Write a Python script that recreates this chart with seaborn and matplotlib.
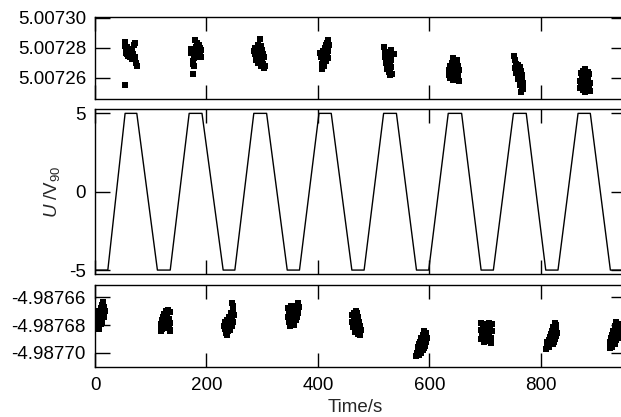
import matplotlib
matplotlib.use("Agg")
import matplotlib.pyplot as plt
from matplotlib.ticker import FormatStrFormatter
import seaborn as sns
import pandas as pd

# --- valores ---

# rampa de tension (vertices de la linea), tiempo en s y U en V90
wave_t = [0, 23, 54, 75, 112, 135, 169, 192, 230, 251, 285, 308, 345, 367,
          402, 424, 461, 483, 518, 541, 577, 599, 634, 658, 693, 715, 751,
          774, 809, 831, 867, 889, 925, 960]
wave_u = [-5, -5, 5, 5, -5, -5, 5, 5, -5, -5, 5, 5, -5, -5,
          5, 5, -5, -5, 5, 5, -5, -5, 5, 5, -5, -5, 5,
          5, -5, -5, 5, 5, -5, -5]

# lecturas en la meseta de +5 V
top_time = [
    53, 54, 55, 55, 56, 57, 57, 58, 59, 60, 61, 62, 63, 64, 65, 66, 67, 68, 70, 71, 72, 74, 75, 54,
    179, 183, 186, 188, 181, 184, 187, 189, 191, 185, 175, 173, 177, 180, 182, 178, 176, 175, 177, 176, 190, 172,
    296, 293, 298, 288, 291, 295, 299, 301, 287, 290, 294, 297, 300, 289, 292, 296, 302, 305, 303, 298, 304, 286,
    419, 417, 420, 414, 416, 418, 412, 410, 415, 419, 408, 411, 413, 416, 404, 406, 409, 414, 418, 407, 411, 408,
    519, 531, 537, 521, 524, 520, 523, 526, 529, 527, 522, 525, 528, 531, 530, 524, 527, 530, 533, 532, 529, 526,
    643, 650, 640, 645, 637, 641, 648, 652, 635, 639, 644, 650, 654, 636, 641, 646, 652, 638, 643, 649, 654, 640,
    752, 753, 755, 757, 760, 763, 754, 758, 762, 765, 756, 760, 764, 767, 759, 763, 766, 769, 762, 766, 768, 765,
    880, 876, 884, 872, 878, 882, 887, 874, 879, 885, 871, 876, 881, 888, 873, 878, 883, 886, 870, 875, 889, 880,
]
top_volt = [
    5.0072835, 5.0072810, 5.0072785, 5.0072765, 5.0072780, 5.0072755, 5.0072805, 5.0072770,
    5.0072745, 5.0072780, 5.0072760, 5.0072735, 5.0072790, 5.0072770, 5.0072750, 5.0072725,
    5.0072775, 5.0072755, 5.0072815, 5.0072830, 5.0072740, 5.0072700, 5.0072675, 5.0072550,
    5.0072850, 5.0072830, 5.0072815, 5.0072795, 5.0072805, 5.0072785, 5.0072770, 5.0072755,
    5.0072740, 5.0072745, 5.0072780, 5.0072765, 5.0072760, 5.0072775, 5.0072735, 5.0072730,
    5.0072710, 5.0072690, 5.0072675, 5.0072625, 5.0072785, 5.0072790,
    5.0072855, 5.0072820, 5.0072810, 5.0072795, 5.0072780, 5.0072770, 5.0072785, 5.0072755,
    5.0072760, 5.0072740, 5.0072730, 5.0072745, 5.0072720, 5.0072715, 5.0072700, 5.0072705,
    5.0072690, 5.0072680, 5.0072665, 5.0072675, 5.0072740, 5.0072775,
    5.0072850, 5.0072830, 5.0072815, 5.0072820, 5.0072800, 5.0072790, 5.0072795, 5.0072780,
    5.0072770, 5.0072775, 5.0072760, 5.0072750, 5.0072735, 5.0072755, 5.0072765, 5.0072740,
    5.0072720, 5.0072710, 5.0072730, 5.0072690, 5.0072680, 5.0072655,
    5.0072805, 5.0072785, 5.0072760, 5.0072770, 5.0072750, 5.0072735, 5.0072720, 5.0072730,
    5.0072740, 5.0072705, 5.0072695, 5.0072680, 5.0072690, 5.0072670, 5.0072700, 5.0072655,
    5.0072640, 5.0072645, 5.0072625, 5.0072715, 5.0072615, 5.0072755,
    5.0072730, 5.0072715, 5.0072695, 5.0072685, 5.0072675, 5.0072670, 5.0072665, 5.0072680,
    5.0072650, 5.0072645, 5.0072640, 5.0072635, 5.0072650, 5.0072620, 5.0072615, 5.0072610,
    5.0072620, 5.0072595, 5.0072585, 5.0072600, 5.0072575, 5.0072630,
    5.0072745, 5.0072720, 5.0072690, 5.0072680, 5.0072685, 5.0072670, 5.0072665, 5.0072650,
    5.0072640, 5.0072645, 5.0072630, 5.0072620, 5.0072610, 5.0072615, 5.0072590, 5.0072580,
    5.0072585, 5.0072565, 5.0072550, 5.0072535, 5.0072525, 5.0072505,
    5.0072660, 5.0072645, 5.0072640, 5.0072630, 5.0072620, 5.0072615, 5.0072625, 5.0072600,
    5.0072595, 5.0072590, 5.0072575, 5.0072570, 5.0072580, 5.0072565, 5.0072550, 5.0072545,
    5.0072540, 5.0072525, 5.0072530, 5.0072515, 5.0072510, 5.0072505,
]

# lecturas en la meseta de -5 V
bot_time = [
    15, 12, 17, 10, 14, 18, 3, 6, 8, 11, 2, 5, 9, 13, 16, 1, 4, 7, 10, 6, 8, 12,
    131, 127, 134, 124, 129, 122, 126, 132, 120, 124, 130, 135, 119, 123, 128, 133, 118, 121, 126, 135, 119, 134,
    246, 247, 248, 244, 249, 240, 245, 237, 242, 248, 234, 239, 244, 231, 236, 241, 246, 233, 238, 243, 235, 237,
    365, 361, 367, 347, 352, 357, 350, 355, 360, 364, 348, 353, 358, 362, 346, 351, 356, 361, 349, 354, 350, 358,
    468, 465, 471, 462, 467, 472, 464, 469, 474, 461, 466, 471, 476, 463, 468, 473, 470, 475, 472, 476, 478, 466,
    591, 594, 589, 595, 586, 591, 584, 589, 594, 582, 587, 592, 580, 585, 590, 579, 583, 588, 578, 582, 577, 586,
    693, 700, 707, 712, 696, 703, 709, 692, 699, 706, 712, 694, 701, 708, 697, 704, 711, 693, 700, 707, 710, 699,
    825, 828, 822, 827, 820, 825, 829, 818, 823, 828, 816, 821, 826, 814, 819, 824, 812, 817, 822, 811, 815, 810,
    936, 940, 933, 938, 942, 930, 935, 940, 928, 933, 938, 926, 931, 936, 925, 929, 934, 924, 928, 925, 941, 932,
]
bot_volt = [
    -4.9876635, -4.9876655, -4.9876670, -4.9876680, -4.9876690, -4.9876700, -4.9876705, -4.9876695,
    -4.9876715, -4.9876725, -4.9876735, -4.9876750, -4.9876760, -4.9876740, -4.9876745, -4.9876770,
    -4.9876780, -4.9876790, -4.9876795, -4.9876815, -4.9876830, -4.9876775,
    -4.9876690, -4.9876700, -4.9876705, -4.9876720, -4.9876725, -4.9876740, -4.9876750, -4.9876755,
    -4.9876765, -4.9876775, -4.9876780, -4.9876785, -4.9876795, -4.9876805, -4.9876810, -4.9876805,
    -4.9876825, -4.9876830, -4.9876820, -4.9876835, -4.9876845, -4.9876840,
    -4.9876640, -4.9876665, -4.9876695, -4.9876715, -4.9876730, -4.9876740, -4.9876750, -4.9876760,
    -4.9876770, -4.9876775, -4.9876780, -4.9876790, -4.9876800, -4.9876805, -4.9876815, -4.9876820,
    -4.9876810, -4.9876830, -4.9876840, -4.9876835, -4.9876855, -4.9876870,
    -4.9876640, -4.9876660, -4.9876670, -4.9876675, -4.9876665, -4.9876680, -4.9876695, -4.9876700,
    -4.9876695, -4.9876710, -4.9876720, -4.9876725, -4.9876730, -4.9876740, -4.9876745, -4.9876755,
    -4.9876760, -4.9876765, -4.9876780, -4.9876785, -4.9876810, -4.9876800,
    -4.9876695, -4.9876710, -4.9876715, -4.9876730, -4.9876740, -4.9876745, -4.9876760, -4.9876770,
    -4.9876775, -4.9876780, -4.9876790, -4.9876800, -4.9876810, -4.9876815, -4.9876825, -4.9876830,
    -4.9876845, -4.9876850, -4.9876865, -4.9876875, -4.9876835, -4.9876850,
    -4.9876840, -4.9876860, -4.9876875, -4.9876890, -4.9876895, -4.9876905, -4.9876920, -4.9876925,
    -4.9876920, -4.9876940, -4.9876945, -4.9876950, -4.9876960, -4.9876970, -4.9876965, -4.9876985,
    -4.9876990, -4.9876980, -4.9877005, -4.9877015, -4.9877025, -4.9877000,
    -4.9876785, -4.9876790, -4.9876785, -4.9876795, -4.9876810, -4.9876815, -4.9876820, -4.9876835,
    -4.9876840, -4.9876835, -4.9876845, -4.9876860, -4.9876865, -4.9876860, -4.9876885, -4.9876880,
    -4.9876890, -4.9876900, -4.9876910, -4.9876915, -4.9876930, -4.9876925,
    -4.9876785, -4.9876800, -4.9876815, -4.9876830, -4.9876840, -4.9876850, -4.9876855, -4.9876865,
    -4.9876870, -4.9876880, -4.9876885, -4.9876895, -4.9876900, -4.9876905, -4.9876915, -4.9876920,
    -4.9876925, -4.9876935, -4.9876940, -4.9876950, -4.9876960, -4.9876970,
    -4.9876780, -4.9876795, -4.9876810, -4.9876825, -4.9876830, -4.9876840, -4.9876850, -4.9876860,
    -4.9876870, -4.9876880, -4.9876885, -4.9876895, -4.9876905, -4.9876910, -4.9876920, -4.9876930,
    -4.9876935, -4.9876945, -4.9876955, -4.9876965, -4.9876890, -4.9876920,
]

x_ticks = [0, 200, 400, 600, 800]
top_ticks = [5.00726, 5.00728, 5.00730]
mid_ticks = [-5, 0, 5]
bot_ticks = [-4.98770, -4.98768, -4.98766]

# --- estilo ---
sns.set_theme(style="ticks")
plt.rcParams["font.family"] = ["Liberation Sans", "DejaVu Sans"]
plt.rcParams["font.size"] = 13.5
plt.rcParams["axes.unicode_minus"] = False
plt.rcParams["mathtext.fontset"] = "custom"
plt.rcParams["mathtext.rm"] = "Liberation Sans"
plt.rcParams["mathtext.it"] = "Liberation Sans:italic"
plt.rcParams["axes.linewidth"] = 1.0
plt.rcParams["axes.edgecolor"] = "black"

df_wave = pd.DataFrame({"t": wave_t, "u": wave_u})
df_top = pd.DataFrame({"t": top_time, "v": top_volt})
df_bot = pd.DataFrame({"t": bot_time, "v": bot_volt})

fig = plt.figure(figsize=(6.21, 4.17), dpi=100)
left, width = 0.153, 0.855
ax_top = fig.add_axes([left, 0.7619, width, 0.1966])
ax_mid = fig.add_axes([left, 0.3422, width, 0.3957])
ax_bot = fig.add_axes([left, 0.1192, width, 0.1973])

sns.scatterplot(data=df_top, x="t", y="v", ax=ax_top, marker="s", s=17,
                color="black", linewidth=0)
sns.lineplot(data=df_wave, x="t", y="u", ax=ax_mid, color="black",
             linewidth=1.0, estimator=None, sort=False)
sns.scatterplot(data=df_bot, x="t", y="v", ax=ax_bot, marker="s", s=17,
                color="black", linewidth=0)

ax_top.set_ylim(5.0072456, 5.0073003)
ax_top.set_yticks(top_ticks)
ax_top.yaxis.set_major_formatter(FormatStrFormatter("%.5f"))

ax_mid.set_ylim(-5.27, 5.26)
ax_mid.set_yticks(mid_ticks)
ax_mid.yaxis.set_major_formatter(FormatStrFormatter("%d"))

ax_bot.set_ylim(-4.9877105, -4.9876511)
ax_bot.set_yticks(bot_ticks)
ax_bot.yaxis.set_major_formatter(FormatStrFormatter("%.5f"))

for ax in (ax_top, ax_mid, ax_bot):
    ax.set_xlim(0, 953)
    ax.set_xticks(x_ticks)
    ax.tick_params(axis="both", which="major", direction="in",
                   top=True, right=True, width=1.0, color="black",
                   labelsize=13.5, labelcolor="black")
    ax.tick_params(axis="y", length=10.5, pad=6.5)
    ax.tick_params(axis="x", length=10, pad=7)
    ax.set_xlabel("")
    ax.set_ylabel("")
    for sp in ax.spines.values():
        sp.set_visible(True)
        sp.set_linewidth(1.0)
        sp.set_color("black")

ax_top.tick_params(axis="x", labelbottom=False)
ax_mid.tick_params(axis="x", labelbottom=False)

ax_mid.set_ylabel("$U$ /V$_{90}$", fontsize=13.5)
ax_mid.yaxis.set_label_coords(-0.062, 0.5)

ax_bot.set_xlabel("Time/s", fontsize=13.5)
ax_bot.xaxis.set_label_coords(0.49, -0.39)

fig.savefig("out.png", dpi=100)
